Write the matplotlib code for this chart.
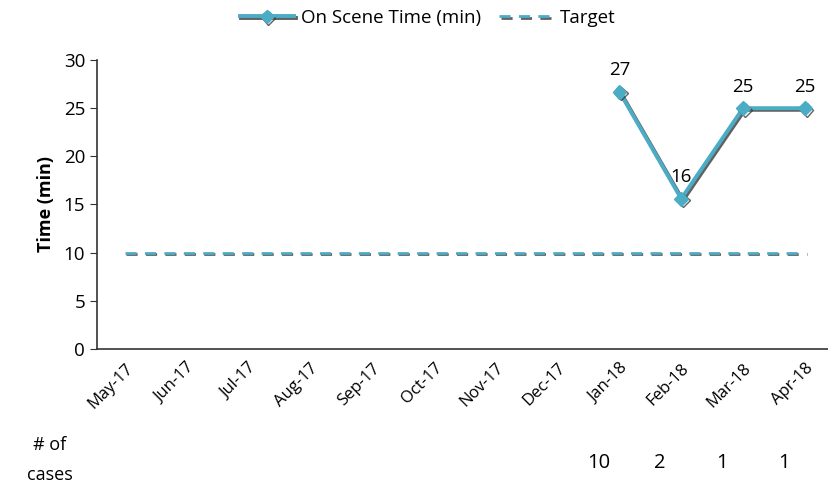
import numpy as np
import matplotlib
matplotlib.use("Agg")
import matplotlib.pyplot as plt
import matplotlib.patheffects as pe

months = ["May-17", "Jun-17", "Jul-17", "Aug-17", "Sep-17", "Oct-17",
          "Nov-17", "Dec-17", "Jan-18", "Feb-18", "Mar-18", "Apr-18"]
on_scene = [np.nan] * 8 + [26.7, 15.6, 25, 25]
target = [10] * 12
cases = [None] * 8 + [10, 2, 1, 1]

plt.rcParams["font.family"] = ["Open Sans", "DejaVu Sans"]

teal = "#4BACC6"
shadow = [pe.SimpleLineShadow(offset=(1.2, -1.2), shadow_color="#3a3a3a", alpha=0.8),
          pe.Normal()]

fig = plt.figure(figsize=(8.29, 4.94), dpi=100)
ax = fig.add_axes([97 / 829, 1 - 349 / 494, 1 - 97 / 829, (349 - 60) / 494])

x = np.arange(len(months))
ax.plot(x, on_scene, color=teal, lw=2.8, marker="D", ms=7,
        label="On Scene Time (min)", path_effects=shadow)
ax.plot(x, target, color=teal, lw=2, ls=(0, (4, 3)), label="Target",
        path_effects=shadow)

for xi, v in zip(x, on_scene):
    if not np.isnan(v):
        ax.annotate(f"{v:.0f}", (xi, v), xytext=(0, 9), textcoords="offset points",
                    ha="center", va="bottom", fontsize=13.5)

ax.set_ylim(0, 30)
ax.set_yticks(range(0, 31, 5))
ax.set_xlim(-0.45, 11.39)
ax.set_xticks(x)
ax.set_xticklabels(months, rotation=45, ha="right", rotation_mode="anchor", fontsize=12)
ax.tick_params(axis="x", length=0, pad=8)
ax.tick_params(axis="y", labelsize=13.5, length=5, color="#333333")
ax.set_ylabel("Time (min)", fontsize=13, fontweight="bold", labelpad=6)
for s in ["top", "right"]:
    ax.spines[s].set_visible(False)
for s in ["left", "bottom"]:
    ax.spines[s].set_color("#333333")
    ax.spines[s].set_linewidth(1.2)

ax.legend(loc="center", bbox_to_anchor=(0.452, 1 + (60 - 18) / 289), ncol=2, frameon=False,
          fontsize=13.5, handlelength=2.9, columnspacing=1.0, handletextpad=0.35,
          borderaxespad=0)

fig.text(50 / 829, 1 - 460 / 494, "# of\ncases", ha="center", va="center", fontsize=13,
         linespacing=1.8)
for xi, c in zip(x, cases):
    if c is not None:
        ax.text(xi - 0.34, -(463 - 349) / 289, str(c), transform=ax.get_xaxis_transform(),
                ha="center", va="center", fontsize=14.5)

fig.savefig("out.png", dpi=100)
